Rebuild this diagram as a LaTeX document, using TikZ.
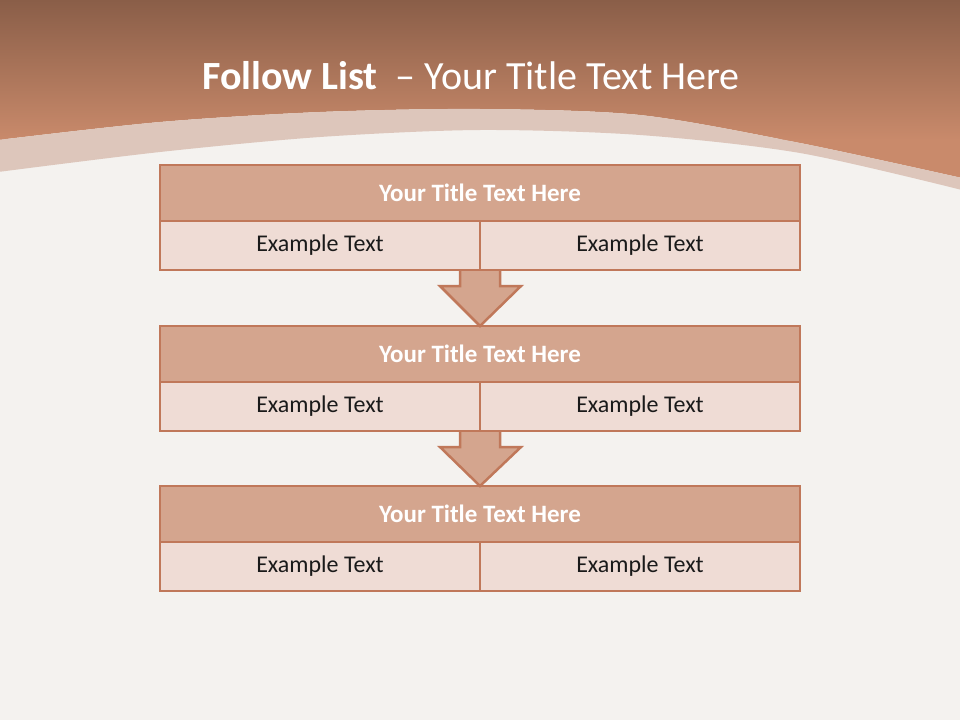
\documentclass[tikz,border=0pt]{standalone}
\usepackage{fontspec}
\setmainfont{Carlito}
\usetikzlibrary{calc}
\definecolor{bgcol}{HTML}{F4F2EF}
\definecolor{hdtop}{HTML}{8A5E48}
\definecolor{hdbot}{HTML}{C98A6B}
\definecolor{bandcol}{HTML}{DDC6BB}
\definecolor{titlefill}{HTML}{D4A58E}
\definecolor{rowfill}{HTML}{EFDCD5}
\definecolor{edgecol}{HTML}{C0785A}
\definecolor{txtcol}{HTML}{1A1A1A}
\tikzset{
  titlerow/.style={draw=edgecol, line width=2.5pt, fill=titlefill, minimum width=640pt, minimum height=56pt, inner sep=0pt, outer sep=0pt, text=white, font=\fontsize{25}{30}\selectfont\bfseries},
  cellrow/.style={draw=edgecol, line width=2.5pt, fill=rowfill, minimum width=320pt, minimum height=49pt, inner sep=0pt, outer sep=0pt, text=txtcol, font=\fontsize{24}{29}\selectfont},
  flowarrow/.style={draw=edgecol, line width=2.5pt, fill=titlefill, line join=miter}
}
\begin{document}
\begin{tikzpicture}[x=1pt,y=-1pt]
\useasboundingbox (0,0) rectangle (960,720);
\fill[bgcol] (0,0) rectangle (960,720);
% header
\begin{scope}
\clip plot[smooth] coordinates {(-2,140) (160,122) (320,112) (480,109) (640,115) (800,143) (962,178)} -- (962,-2) -- (-2,-2) -- cycle;
\shade[top color=hdtop, bottom color=hdbot] (0,0) rectangle (960,140);
\fill[hdbot] (0,139) rectangle (960,200);
\end{scope}
\fill[bandcol] plot[smooth] coordinates {(-2,140) (160,122) (320,112) (480,109) (640,115) (800,143) (962,178)}
  -- plot[smooth] coordinates {(962,190) (800,153) (640,135) (480,130) (320,137) (160,152) (-2,172)} -- cycle;
\node[text=white, font=\fontsize{40}{48}\selectfont, anchor=center] (maintitle) at (471,76) {\textbf{Follow List}\ \ – Your Title Text Here};
% boxes
\node[titlerow] (t1) at (480,193) {Your Title Text Here};
\node[cellrow, anchor=north east] (e1l) at (t1.south) {Example Text};
\node[cellrow, anchor=north west] (e1r) at (t1.south) {Example Text};
\node[titlerow] (t2) at (480,354) {Your Title Text Here};
\node[cellrow, anchor=north east] (e2l) at (t2.south) {Example Text};
\node[cellrow, anchor=north west] (e2r) at (t2.south) {Example Text};
\node[titlerow] (t3) at (480,514) {Your Title Text Here};
\node[cellrow, anchor=north east] (e3l) at (t3.south) {Example Text};
\node[cellrow, anchor=north west] (e3r) at (t3.south) {Example Text};
% arrows
\draw[flowarrow] ($(e1l.south east)+(-20,0)$) -- ++(0,16) -- ++(-20,0) -- (t2.north) -- ($(e1l.south east)+(41,16)$) -- ($(e1l.south east)+(20,16)$) -- ($(e1l.south east)+(20,0)$);
\draw[flowarrow] ($(e2l.south east)+(-20,0)$) -- ++(0,16) -- ++(-20,0) -- (t3.north) -- ($(e2l.south east)+(41,16)$) -- ($(e2l.south east)+(20,16)$) -- ($(e2l.south east)+(20,0)$);
% redraw the row edges on top of arrows
\draw[edgecol, line width=2.5pt] (e1l.south west) -- (e1r.south east);
\draw[edgecol, line width=2.5pt] (e2l.south west) -- (e2r.south east);
\draw[edgecol, line width=2.5pt] (t2.north west) -- (t2.north east);
\draw[edgecol, line width=2.5pt] (t3.north west) -- (t3.north east);
\end{tikzpicture}
\end{document}
